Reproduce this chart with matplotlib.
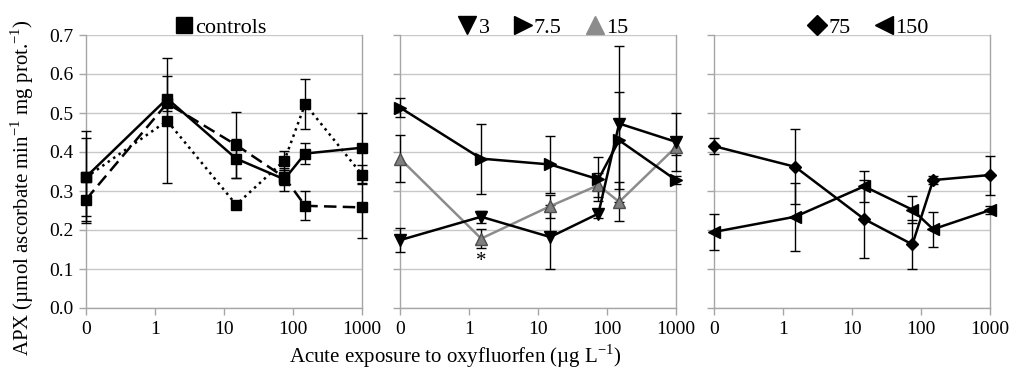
import matplotlib
matplotlib.use('Agg')

import matplotlib.pyplot as plt
from matplotlib.lines import Line2D
import numpy as np

plt.rcParams['font.family'] = ['Liberation Serif', 'DejaVu Serif']

# exposure concentrations (0 is drawn one decade below 1 on the log axis)
conc = [0, 1.5, 15, 75, 150, 1000]

# controls (three runs)
ctrl_solid = [0.336, 0.537, 0.383, 0.330, 0.396, 0.411]
ctrl_solid_err = [0.117, 0.058, 0.050, 0.030, 0.028, 0.090]
ctrl_dashed = [0.278, 0.525, 0.418, 0.335, 0.262, 0.258]
ctrl_dashed_err = [0.055, 0.020, 0.085, 0.020, 0.037, 0.078]
ctrl_dotted = [0.335, 0.480, 0.265, 0.378, 0.523, 0.342]
ctrl_dotted_err = [0.100, 0.160, 0.010, 0.025, 0.065, 0.025]

# recovery after 3, 7.5, 15
r3 = [0.174, 0.234, 0.182, 0.242, 0.473, 0.426]
r3_err = [0.030, 0.015, 0.083, 0.010, 0.200, 0.075]
r7 = [0.514, 0.383, 0.368, 0.330, 0.430, 0.328]
r7_err = [0.024, 0.090, 0.072, 0.056, 0.125, 0.010]
r15 = [0.383, 0.178, 0.261, 0.315, 0.272, 0.413]
r15_err = [0.060, 0.025, 0.030, 0.030, 0.050, 0.020]

# recovery after 75, 150
r75 = [0.415, 0.362, 0.228, 0.163, 0.328, 0.341]
r75_err = [0.020, 0.096, 0.100, 0.062, 0.010, 0.050]
r150 = [0.195, 0.234, 0.312, 0.252, 0.202, 0.251]
r150_err = [0.045, 0.087, 0.040, 0.035, 0.045, 0.010]

xticks = [0.1, 1, 10, 100, 1000]
xticklabels = ['0', '1', '10', '100', '1000']

xs = np.array([0.1 if c == 0 else c for c in conc])

GRID = '#c8c8c8'
SPINE = '#a6a6a6'
GREY = '#8c8c8c'

fig = plt.figure(figsize=(10.11, 3.69), dpi=100)
lefts = [86, 400, 714]
axes = [fig.add_axes([l / 1011, 1 - 308 / 369, 276 / 1011, 273 / 369]) for l in lefts]

for i, ax in enumerate(axes):
    ax.set_xscale('log')
    ax.set_xlim(0.1, 1000)
    ax.set_ylim(0, 0.7)
    ax.set_xticks(xticks)
    ax.set_xticklabels(xticklabels)
    ax.xaxis.set_minor_locator(matplotlib.ticker.NullLocator())
    ax.set_yticks(np.arange(0, 0.71, 0.1))
    if i == 0:
        ax.set_yticklabels(['%.1f' % v for v in np.arange(0, 0.71, 0.1)])
    else:
        ax.set_yticklabels([])
    ax.grid(axis='y', color=GRID, linewidth=1)
    ax.set_axisbelow(True)
    for s in ['left', 'bottom', 'right']:
        ax.spines[s].set_color(SPINE)
        ax.spines[s].set_linewidth(1)
    ax.spines['top'].set_visible(False)
    ax.tick_params(axis='both', color=SPINE, length=5, width=1, labelsize=14, pad=4)


def draw(ax, y, err, marker, ms, color='k', ls='-', mfc=None, mec=None):
    ax.errorbar(xs, y, yerr=err, color=color, marker=marker, markersize=ms,
                linestyle=ls, linewidth=1.8, ecolor='k', elinewidth=1, capsize=3.5,
                capthick=1, markerfacecolor=mfc or color, markeredgecolor=mec or color,
                clip_on=False, zorder=3)


ax1, ax2, ax3 = axes
draw(ax1, ctrl_dashed, ctrl_dashed_err, 's', 7.5, ls=(0, (5, 2.5)))
draw(ax1, ctrl_dotted, ctrl_dotted_err, 's', 7.5, ls=':')
draw(ax1, ctrl_solid, ctrl_solid_err, 's', 7.5)

draw(ax2, r15, r15_err, '^', 8.5, color=GREY, mfc='#7f7f7f', mec='#4d4d4d')
draw(ax2, r7, r7_err, '>', 8.5)
draw(ax2, r3, r3_err, 'v', 8.5)
ax2.text(1.5, 0.118, '*', ha='center', va='center', fontsize=15)

draw(ax3, r75, r75_err, 'D', 6.5)
draw(ax3, r150, r150_err, '<', 8.5)


def handle(marker, color='k', ms=12.5):
    return Line2D([], [], marker=marker, linestyle='none', color=color, markersize=ms)


leg_kw = dict(loc='lower center', frameon=False,
              handlelength=0.8, handletextpad=0.1, columnspacing=1.1,
              borderaxespad=0.0, fontsize=16, borderpad=0.05)
ax1.legend([handle('s', ms=12)], ['controls'], ncol=1,
           bbox_to_anchor=(0.49, 0.985), **leg_kw)
ax2.legend([handle('v'), handle('>'), handle('^', color=GREY)], ['3', '7.5', '15'], ncol=3,
           bbox_to_anchor=(0.52, 0.985), **leg_kw)
ax3.legend([handle('D', ms=10), handle('<')], ['75', '150'], ncol=2,
           bbox_to_anchor=(0.56, 0.985), **leg_kw)

fig.text(455 / 1011, 0.035, 'Acute exposure to oxyfluorfen (\u00b5g L$^{\\mathregular{-1}}$)',
         ha='center', va='center', fontsize=15)
fig.text(0.022, 0.492, 'APX (\u00b5mol ascorbate min$^{\\mathregular{-1}}$ mg prot.$^{\\mathregular{-1}}$)',
         ha='center', va='center', rotation=90, fontsize=15)

fig.savefig('out.png', dpi=100)
